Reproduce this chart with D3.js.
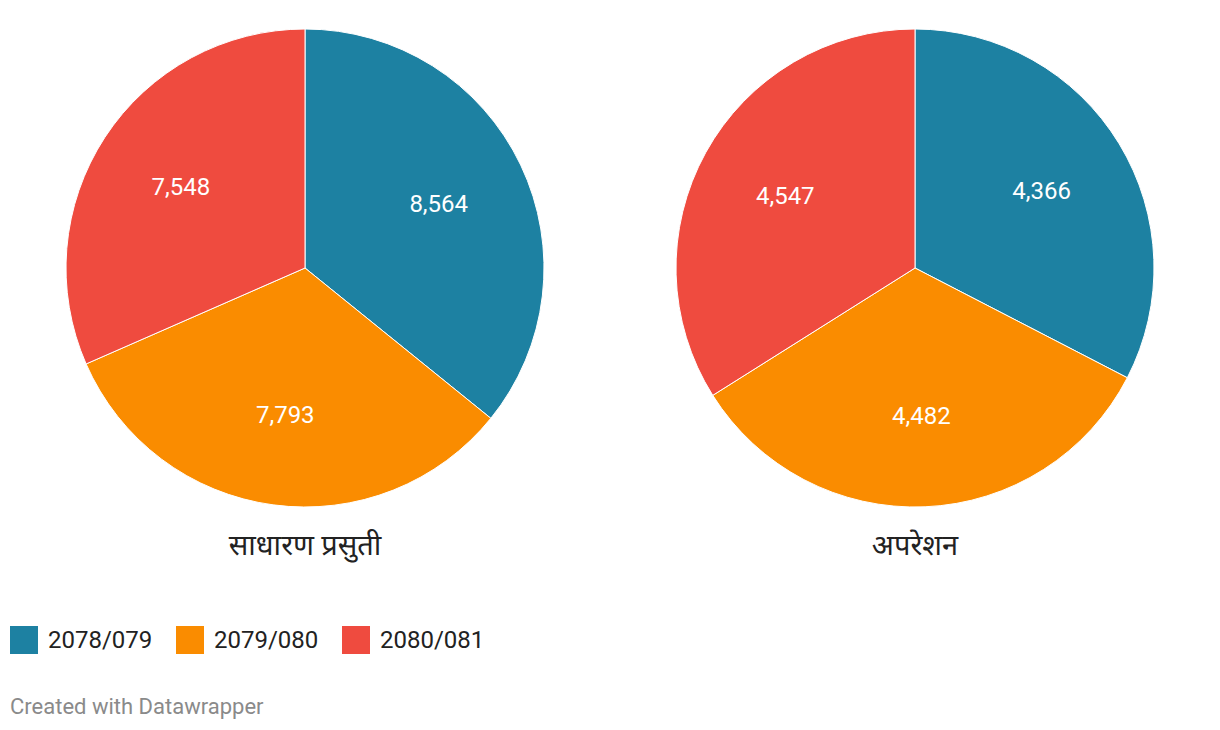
<!DOCTYPE html>
<html><head><meta charset="utf-8">
<script src="https://cdn.jsdelivr.net/npm/d3@7"></script>
<style>body{margin:0;background:#fff;font-family:Roboto,"Noto Sans",sans-serif;}</style>
</head><body>
<svg id="c" width="1220" height="730"></svg>
<script>
const series = ["2078/079","2079/080","2080/081"];
const colors = ["#1d81a2","#fa8c00","#ef4b3f"];
const charts = ["साधारण प्रसुती","अपरेशन"];
const normalValues = [8564, 7793, 7548];
const operationValues = [4366, 4482, 4547];
const allValues = [normalValues, operationValues];

const svg = d3.select("#c");
const r = 239;
const centers = [305, 915];
const cy = 268;
const fmt = d3.format(",");
const pie = d3.pie().sort(null).value(d => d);
const arc = d3.arc().innerRadius(0).outerRadius(r);
const labelArc = d3.arc().innerRadius(r*0.62).outerRadius(r*0.62);

allValues.forEach((vals, i) => {
  const g = svg.append("g").attr("transform", `translate(${centers[i]},${cy})`);
  const arcs = pie(vals);
  g.selectAll("path").data(arcs).join("path")
    .attr("d", arc)
    .attr("fill", (d, j) => colors[j])
    .attr("stroke", "#fff").attr("stroke-width", 1);
  g.selectAll("text").data(arcs).join("text")
    .attr("transform", d => `translate(${labelArc.centroid(d)})`)
    .attr("text-anchor", "middle").attr("dominant-baseline", "central")
    .attr("fill", "#fff").style("font-size", "24px")
    .text(d => fmt(d.data));
  svg.append("text").attr("x", centers[i]).attr("y", 545)
    .attr("text-anchor", "middle").attr("dominant-baseline", "central")
    .attr("fill", "#222").style("font-size", "29px")
    .text(charts[i]);
});

const legendX = [10, 176, 342];
series.forEach((s, j) => {
  svg.append("rect").attr("x", legendX[j]).attr("y", 626).attr("width", 28).attr("height", 28).attr("fill", colors[j]);
  svg.append("text").attr("x", legendX[j] + 38).attr("y", 640)
    .attr("dominant-baseline", "central").attr("fill", "#222").style("font-size", "24px").text(s);
});

svg.append("text").attr("x", 10).attr("y", 706).attr("dominant-baseline", "central")
  .attr("fill", "#8a8a8a").style("font-size", "22px").text("Created with Datawrapper");
</script>
</body></html>
